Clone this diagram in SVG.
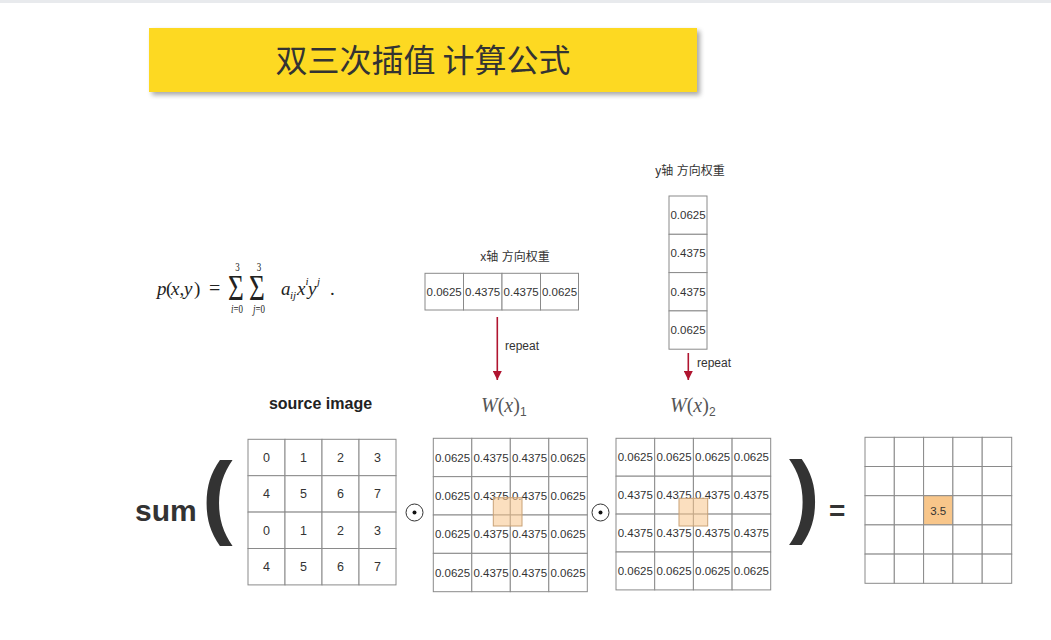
<svg xmlns="http://www.w3.org/2000/svg" width="1051" height="640" viewBox="0 0 1051 640">
<defs>
<filter id="sh" x="-5%" y="-20%" width="112%" height="150%">
<feGaussianBlur in="SourceAlpha" stdDeviation="2.5"/>
<feOffset dx="3" dy="3" result="b"/>
<feComponentTransfer><feFuncA type="linear" slope="0.35"/></feComponentTransfer>
<feMerge><feMergeNode/><feMergeNode in="SourceGraphic"/></feMerge>
</filter>
<marker id="ah" viewBox="0 0 10 10" refX="10" refY="5" markerWidth="9" markerHeight="9" markerUnits="userSpaceOnUse" orient="auto">
<path d="M0,0 L10,5 L0,10 z" fill="#b01530"/>
</marker>
</defs>
<style>
.cell{fill:#fff;stroke:#8a8a8a;stroke-width:1}
.num{font-family:"Liberation Sans",Arial,sans-serif;font-size:11.5px;fill:#333;text-anchor:middle}
.src{font-family:"Liberation Sans",Arial,sans-serif;font-size:12.5px;fill:#333;text-anchor:middle}
.lbl{font-family:"Liberation Sans","Noto Sans CJK SC",sans-serif;font-size:12px;fill:#333;text-anchor:middle}
.rep{font-family:"Liberation Sans",Arial,sans-serif;font-size:12px;fill:#333}
.math{font-family:"Liberation Serif","DejaVu Serif",serif;font-style:italic;fill:#222}
.rm{font-family:"Liberation Serif","DejaVu Serif",serif;fill:#222}
.wl{font-family:"Liberation Serif","DejaVu Serif",serif;font-style:italic;font-size:20px;fill:#555}
.big{font-family:"Liberation Sans",Arial,sans-serif;font-weight:bold;fill:#333}
.arrow{stroke:#b01530;stroke-width:1.6;fill:none}
.hl{fill:#f7c48a;fill-opacity:0.55;stroke:#c9a277;stroke-width:1}
.op{fill:#fff;stroke:#333;stroke-width:1}
</style>
<rect x="0" y="0" width="1051" height="640" fill="#fff"/>
<rect x="0" y="0" width="1051" height="3" fill="#e8eaed"/>

<g id="title">
<rect x="149" y="28" width="548" height="64" fill="#fdd923" filter="url(#sh)"/>
<text x="423" y="72" text-anchor="middle" font-family="'Noto Sans CJK SC',sans-serif" font-size="32" fill="#333">双三次插值 计算公式</text>
</g>

<g id="formula">
<text class="math" font-size="19"><tspan x="157" y="295">p</tspan><tspan x="166" font-style="normal">(</tspan><tspan x="171">x</tspan><tspan x="179.5" font-style="normal">,</tspan><tspan x="184">y</tspan><tspan x="194" font-style="normal">)</tspan><tspan x="209" font-style="normal" font-size="20">=</tspan><tspan x="281">a</tspan><tspan x="290" y="298.5" font-size="11">ij</tspan><tspan x="297" y="295">x</tspan><tspan x="305.5" y="285" font-size="11">i</tspan><tspan x="308" y="295">y</tspan><tspan x="317" y="285" font-size="11">j</tspan><tspan x="330" y="295" font-style="normal">.</tspan></text>
<text class="rm" transform="translate(236 300) scale(0.85 1.12) translate(-236 -300)"><tspan x="236" y="300" font-size="32" text-anchor="middle">Σ</tspan><tspan x="237.8" y="274.1" font-size="10.5" text-anchor="middle">3</tspan><tspan x="237.2" y="311.6" font-size="10.5" text-anchor="middle"><tspan font-style="italic">i</tspan>=0</tspan></text>
<text class="rm" transform="translate(257 300) scale(0.85 1.12) translate(-257 -300)"><tspan x="257" y="300" font-size="32" text-anchor="middle">Σ</tspan><tspan x="259.4" y="274.1" font-size="10.5" text-anchor="middle">3</tspan><tspan x="259.4" y="311.6" font-size="10.5" text-anchor="middle"><tspan font-style="italic">j</tspan>=0</tspan></text>
</g>

<g id="x-weights">
<text class="lbl" x="515" y="261">x轴 方向权重</text>
<rect class="cell" x="425" y="273.3" width="38.5" height="36.7"/>
<rect class="cell" x="463.5" y="273.3" width="38.5" height="36.7"/>
<rect class="cell" x="502" y="273.3" width="38.5" height="36.7"/>
<rect class="cell" x="540.5" y="273.3" width="38" height="36.7"/>
<text class="num" x="444.2" y="296">0.0625</text>
<text class="num" x="482.7" y="296">0.4375</text>
<text class="num" x="521.2" y="296">0.4375</text>
<text class="num" x="559.5" y="296">0.0625</text>
</g>

<g id="y-weights">
<text class="lbl" x="690" y="175">y轴 方向权重</text>
<rect class="cell" x="669" y="196" width="38" height="38.3"/>
<rect class="cell" x="669" y="234.3" width="38" height="38.3"/>
<rect class="cell" x="669" y="272.6" width="38" height="38.3"/>
<rect class="cell" x="669" y="310.9" width="38" height="38.3"/>
<text class="num" x="688" y="219">0.0625</text>
<text class="num" x="688" y="257.3">0.4375</text>
<text class="num" x="688" y="295.6">0.4375</text>
<text class="num" x="688" y="333.9">0.0625</text>
</g>

<g id="connectors">
<line class="arrow" x1="497.3" y1="317" x2="497.3" y2="380" marker-end="url(#ah)"/>
<line class="arrow" x1="688.3" y1="353" x2="688.3" y2="380" marker-end="url(#ah)"/>
<text class="rep" x="505" y="350">repeat</text>
<text class="rep" x="697" y="367">repeat</text>
</g>

<g id="sum">
<text class="big" x="135" y="521" font-size="30">sum</text>
<text class="big" x="202" y="527" font-size="92">(</text>
</g>

<g id="source-image">
<text x="320.5" y="409" text-anchor="middle" font-family="'Liberation Sans',Arial,sans-serif" font-weight="bold" font-size="16" fill="#222">source image</text>
<g>
<rect class="cell" x="248" y="439.3" width="37" height="36.4"/>
<rect class="cell" x="285" y="439.3" width="37" height="36.4"/>
<rect class="cell" x="322" y="439.3" width="37" height="36.4"/>
<rect class="cell" x="359" y="439.3" width="37" height="36.4"/>
<rect class="cell" x="248" y="475.7" width="37" height="36.4"/>
<rect class="cell" x="285" y="475.7" width="37" height="36.4"/>
<rect class="cell" x="322" y="475.7" width="37" height="36.4"/>
<rect class="cell" x="359" y="475.7" width="37" height="36.4"/>
<rect class="cell" x="248" y="512.1" width="37" height="36.4"/>
<rect class="cell" x="285" y="512.1" width="37" height="36.4"/>
<rect class="cell" x="322" y="512.1" width="37" height="36.4"/>
<rect class="cell" x="359" y="512.1" width="37" height="36.4"/>
<rect class="cell" x="248" y="548.5" width="37" height="36.4"/>
<rect class="cell" x="285" y="548.5" width="37" height="36.4"/>
<rect class="cell" x="322" y="548.5" width="37" height="36.4"/>
<rect class="cell" x="359" y="548.5" width="37" height="36.4"/>
</g>
<text class="src" x="266.5" y="462">0</text><text class="src" x="303.5" y="462">1</text><text class="src" x="340.5" y="462">2</text><text class="src" x="377.5" y="462">3</text>
<text class="src" x="266.5" y="498.4">4</text><text class="src" x="303.5" y="498.4">5</text><text class="src" x="340.5" y="498.4">6</text><text class="src" x="377.5" y="498.4">7</text>
<text class="src" x="266.5" y="534.8">0</text><text class="src" x="303.5" y="534.8">1</text><text class="src" x="340.5" y="534.8">2</text><text class="src" x="377.5" y="534.8">3</text>
<text class="src" x="266.5" y="571.2">4</text><text class="src" x="303.5" y="571.2">5</text><text class="src" x="340.5" y="571.2">6</text><text class="src" x="377.5" y="571.2">7</text>
</g>

<g id="op1">
<circle class="op" cx="414.5" cy="512.5" r="8.5"/>
<circle cx="414.5" cy="512.5" r="2" fill="#111"/>
</g>

<g id="w1">
<text class="wl" x="481" y="412">W<tspan font-style="normal">(</tspan>x<tspan font-style="normal">)</tspan><tspan font-style="normal" font-family="'Liberation Sans',sans-serif" font-size="12" dy="4">1</tspan></text>
<g>
<rect class="cell" x="433.3" y="438.3" width="38.5" height="38.35"/>
<rect class="cell" x="471.8" y="438.3" width="38.5" height="38.35"/>
<rect class="cell" x="510.3" y="438.3" width="38.5" height="38.35"/>
<rect class="cell" x="548.8" y="438.3" width="38.5" height="38.35"/>
<rect class="cell" x="433.3" y="476.65" width="38.5" height="38.35"/>
<rect class="cell" x="471.8" y="476.65" width="38.5" height="38.35"/>
<rect class="cell" x="510.3" y="476.65" width="38.5" height="38.35"/>
<rect class="cell" x="548.8" y="476.65" width="38.5" height="38.35"/>
<rect class="cell" x="433.3" y="515" width="38.5" height="38.35"/>
<rect class="cell" x="471.8" y="515" width="38.5" height="38.35"/>
<rect class="cell" x="510.3" y="515" width="38.5" height="38.35"/>
<rect class="cell" x="548.8" y="515" width="38.5" height="38.35"/>
<rect class="cell" x="433.3" y="553.35" width="38.5" height="38.35"/>
<rect class="cell" x="471.8" y="553.35" width="38.5" height="38.35"/>
<rect class="cell" x="510.3" y="553.35" width="38.5" height="38.35"/>
<rect class="cell" x="548.8" y="553.35" width="38.5" height="38.35"/>
</g>
<text class="num" x="452.5" y="461.5">0.0625</text><text class="num" x="491" y="461.5">0.4375</text><text class="num" x="529.5" y="461.5">0.4375</text><text class="num" x="568" y="461.5">0.0625</text>
<text class="num" x="452.5" y="499.8">0.0625</text><text class="num" x="491" y="499.8">0.4375</text><text class="num" x="529.5" y="499.8">0.4375</text><text class="num" x="568" y="499.8">0.0625</text>
<text class="num" x="452.5" y="538.2">0.0625</text><text class="num" x="491" y="538.2">0.4375</text><text class="num" x="529.5" y="538.2">0.4375</text><text class="num" x="568" y="538.2">0.0625</text>
<text class="num" x="452.5" y="576.5">0.0625</text><text class="num" x="491" y="576.5">0.4375</text><text class="num" x="529.5" y="576.5">0.4375</text><text class="num" x="568" y="576.5">0.0625</text>
<rect class="hl" x="493.3" y="497.7" width="28.7" height="28.3"/>
</g>

<g id="op2">
<circle class="op" cx="600.5" cy="512.5" r="8.5"/>
<circle cx="600.5" cy="512.5" r="2" fill="#111"/>
</g>

<g id="w2">
<text class="wl" x="670" y="412">W<tspan font-style="normal">(</tspan>x<tspan font-style="normal">)</tspan><tspan font-style="normal" font-family="'Liberation Sans',sans-serif" font-size="12" dy="4">2</tspan></text>
<g>
<rect class="cell" x="616" y="438.3" width="38.7" height="37.9"/>
<rect class="cell" x="654.7" y="438.3" width="38.7" height="37.9"/>
<rect class="cell" x="693.4" y="438.3" width="38.7" height="37.9"/>
<rect class="cell" x="732.1" y="438.3" width="38.6" height="37.9"/>
<rect class="cell" x="616" y="476.2" width="38.7" height="37.9"/>
<rect class="cell" x="654.7" y="476.2" width="38.7" height="37.9"/>
<rect class="cell" x="693.4" y="476.2" width="38.7" height="37.9"/>
<rect class="cell" x="732.1" y="476.2" width="38.6" height="37.9"/>
<rect class="cell" x="616" y="514.1" width="38.7" height="37.9"/>
<rect class="cell" x="654.7" y="514.1" width="38.7" height="37.9"/>
<rect class="cell" x="693.4" y="514.1" width="38.7" height="37.9"/>
<rect class="cell" x="732.1" y="514.1" width="38.6" height="37.9"/>
<rect class="cell" x="616" y="552" width="38.7" height="37.9"/>
<rect class="cell" x="654.7" y="552" width="38.7" height="37.9"/>
<rect class="cell" x="693.4" y="552" width="38.7" height="37.9"/>
<rect class="cell" x="732.1" y="552" width="38.6" height="37.9"/>
</g>
<text class="num" x="635.3" y="461.3">0.0625</text><text class="num" x="674" y="461.3">0.0625</text><text class="num" x="712.7" y="461.3">0.0625</text><text class="num" x="751.4" y="461.3">0.0625</text>
<text class="num" x="635.3" y="499.2">0.4375</text><text class="num" x="674" y="499.2">0.4375</text><text class="num" x="712.7" y="499.2">0.4375</text><text class="num" x="751.4" y="499.2">0.4375</text>
<text class="num" x="635.3" y="537.1">0.4375</text><text class="num" x="674" y="537.1">0.4375</text><text class="num" x="712.7" y="537.1">0.4375</text><text class="num" x="751.4" y="537.1">0.4375</text>
<text class="num" x="635.3" y="575">0.0625</text><text class="num" x="674" y="575">0.0625</text><text class="num" x="712.7" y="575">0.0625</text><text class="num" x="751.4" y="575">0.0625</text>
<rect class="hl" x="679" y="498.3" width="28.7" height="27.7"/>
</g>

<g id="close">
<text class="big" x="789" y="526" font-size="92">)</text>
<text class="big" x="829" y="520" font-size="28">=</text>
</g>

<g id="result">
<g>
<rect class="cell" x="865" y="437.3" width="29.3" height="29.2"/><rect class="cell" x="894.3" y="437.3" width="29.3" height="29.2"/><rect class="cell" x="923.6" y="437.3" width="29.3" height="29.2"/><rect class="cell" x="952.9" y="437.3" width="29.3" height="29.2"/><rect class="cell" x="982.2" y="437.3" width="29.5" height="29.2"/>
<rect class="cell" x="865" y="466.5" width="29.3" height="29.2"/><rect class="cell" x="894.3" y="466.5" width="29.3" height="29.2"/><rect class="cell" x="923.6" y="466.5" width="29.3" height="29.2"/><rect class="cell" x="952.9" y="466.5" width="29.3" height="29.2"/><rect class="cell" x="982.2" y="466.5" width="29.5" height="29.2"/>
<rect class="cell" x="865" y="495.7" width="29.3" height="29.2"/><rect class="cell" x="894.3" y="495.7" width="29.3" height="29.2"/><rect x="923.6" y="495.7" width="29.3" height="29.2" fill="#f8c68a" stroke="#8a8a8a" stroke-width="1"/><rect class="cell" x="952.9" y="495.7" width="29.3" height="29.2"/><rect class="cell" x="982.2" y="495.7" width="29.5" height="29.2"/>
<rect class="cell" x="865" y="524.9" width="29.3" height="29.2"/><rect class="cell" x="894.3" y="524.9" width="29.3" height="29.2"/><rect class="cell" x="923.6" y="524.9" width="29.3" height="29.2"/><rect class="cell" x="952.9" y="524.9" width="29.3" height="29.2"/><rect class="cell" x="982.2" y="524.9" width="29.5" height="29.2"/>
<rect class="cell" x="865" y="554.1" width="29.3" height="29.2"/><rect class="cell" x="894.3" y="554.1" width="29.3" height="29.2"/><rect class="cell" x="923.6" y="554.1" width="29.3" height="29.2"/><rect class="cell" x="952.9" y="554.1" width="29.3" height="29.2"/><rect class="cell" x="982.2" y="554.1" width="29.5" height="29.2"/>
</g>
<text class="num" x="938.2" y="514.5" font-size="12">3.5</text>
</g>
</svg>
